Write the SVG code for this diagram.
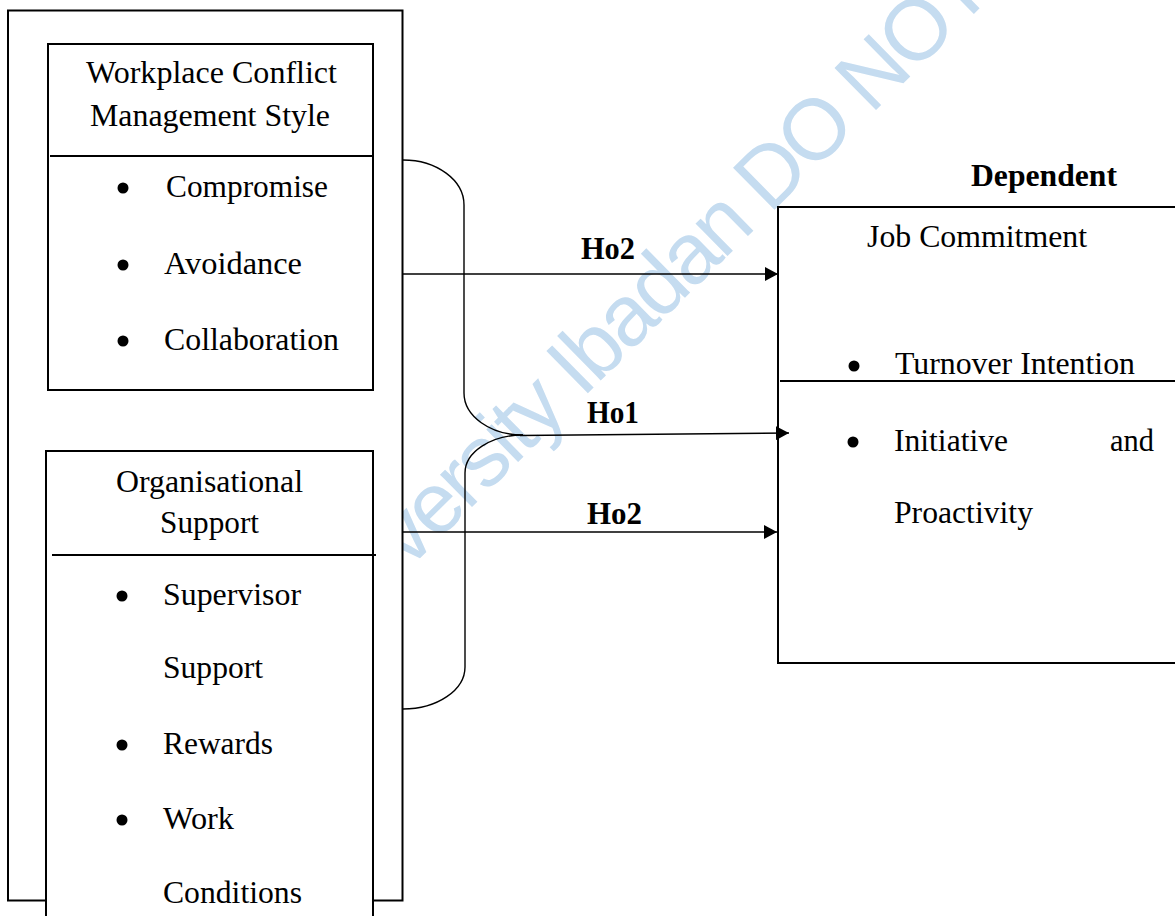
<svg xmlns="http://www.w3.org/2000/svg" width="1175" height="916" viewBox="0 0 1175 916">
<style>
.box{fill:#fff;stroke:#000;stroke-width:2}
.div{stroke:#000;stroke-width:2}
.t{font-family:"Liberation Serif","Times New Roman",serif;font-size:31px;fill:#000}
.b{font-family:"Liberation Serif","Times New Roman",serif;font-size:31px;font-weight:bold;fill:#000}
.con{fill:none;stroke:#000;stroke-width:1.4}
.wm{font-family:"Liberation Sans",Arial,sans-serif;font-size:86px;letter-spacing:-3.5px;fill:#c5dcf0}
</style>
<defs>
<marker id="ah" viewBox="0 0 13 14" refX="13" refY="7" markerWidth="13" markerHeight="14" markerUnits="userSpaceOnUse" orient="auto">
<path d="M0,0 L13,7 L0,14 z" fill="#000"/>
</marker>
</defs>
<rect width="1175" height="916" fill="#fff"/>
<g id="watermark">
<text class="wm" transform="translate(408,570) rotate(-44.5)" x="0" y="0">versity Ibadan DO NOT</text>
</g>
<g id="outer">
<rect class="box" x="8" y="10.5" width="394.5" height="890"/>
</g>
<g id="wcms">
<rect class="box" x="48" y="44" width="325" height="346"/>
<line class="div" x1="50" y1="156" x2="373" y2="156"/>
<text class="t" x="86" y="83" textLength="251" lengthAdjust="spacingAndGlyphs">Workplace Conflict</text>
<text class="t" x="90" y="126" textLength="240" lengthAdjust="spacingAndGlyphs">Management Style</text>
<circle cx="123" cy="188" r="5.5"/>
<text class="t" x="166" y="197" textLength="162" lengthAdjust="spacingAndGlyphs">Compromise</text>
<circle cx="123" cy="265" r="5.5"/>
<text class="t" x="164" y="274" textLength="138" lengthAdjust="spacingAndGlyphs">Avoidance</text>
<circle cx="123" cy="341" r="5.5"/>
<text class="t" x="164" y="350" textLength="175" lengthAdjust="spacingAndGlyphs">Collaboration</text>
</g>
<g id="orgsupport">
<rect class="box" x="46" y="451" width="327" height="500"/>
<line class="div" x1="52" y1="555" x2="376" y2="555"/>
<text class="t" x="116" y="492" textLength="187" lengthAdjust="spacingAndGlyphs">Organisational</text>
<text class="t" x="160" y="533" textLength="99" lengthAdjust="spacingAndGlyphs">Support</text>
<circle cx="122" cy="596" r="5.5"/>
<text class="t" x="163" y="605" textLength="138" lengthAdjust="spacingAndGlyphs">Supervisor</text>
<text class="t" x="163" y="678" textLength="100" lengthAdjust="spacingAndGlyphs">Support</text>
<circle cx="122" cy="745" r="5.5"/>
<text class="t" x="163" y="754" textLength="110" lengthAdjust="spacingAndGlyphs">Rewards</text>
<circle cx="122" cy="820" r="5.5"/>
<text class="t" x="163" y="829" textLength="71" lengthAdjust="spacingAndGlyphs">Work</text>
<text class="t" x="163" y="903" textLength="139" lengthAdjust="spacingAndGlyphs">Conditions</text>
</g>
<g id="jobcommitment">
<text class="b" x="971" y="186" textLength="146" lengthAdjust="spacingAndGlyphs">Dependent</text>
<rect class="box" x="778" y="207" width="420" height="456"/>
<line class="div" x1="780" y1="381" x2="1175" y2="381"/>
<text class="t" x="867" y="247" textLength="220" lengthAdjust="spacingAndGlyphs">Job Commitment</text>
<circle cx="854" cy="366" r="5.5"/>
<text class="t" x="895" y="374" textLength="240" lengthAdjust="spacingAndGlyphs">Turnover Intention</text>
<circle cx="853" cy="442" r="5.5"/>
<text class="t" x="894" y="451" textLength="114" lengthAdjust="spacingAndGlyphs">Initiative</text>
<text class="t" x="1110" y="451" textLength="44" lengthAdjust="spacingAndGlyphs">and</text>
<text class="t" x="894" y="523" textLength="139" lengthAdjust="spacingAndGlyphs">Proactivity</text>
</g>
<g id="connectors">
<path class="con" d="M403,160 A61,45 0 0 1 464,205 L464,393 A59,42 0 0 0 523,435"/>
<path class="con" d="M523,435 A58,38 0 0 0 465,473 L465,667 A62,42 0 0 1 403,709"/>
<path class="con" d="M403,274 H778" marker-end="url(#ah)"/>
<path class="con" d="M520,435.5 L789,433" marker-end="url(#ah)"/>
<path class="con" d="M403,532 H777" marker-end="url(#ah)"/>
<text class="b" x="581" y="259" textLength="54" lengthAdjust="spacingAndGlyphs">Ho2</text>
<text class="b" x="587" y="423" textLength="52" lengthAdjust="spacingAndGlyphs">Ho1</text>
<text class="b" x="587" y="524" textLength="55" lengthAdjust="spacingAndGlyphs">Ho2</text>
</g>
</svg>
